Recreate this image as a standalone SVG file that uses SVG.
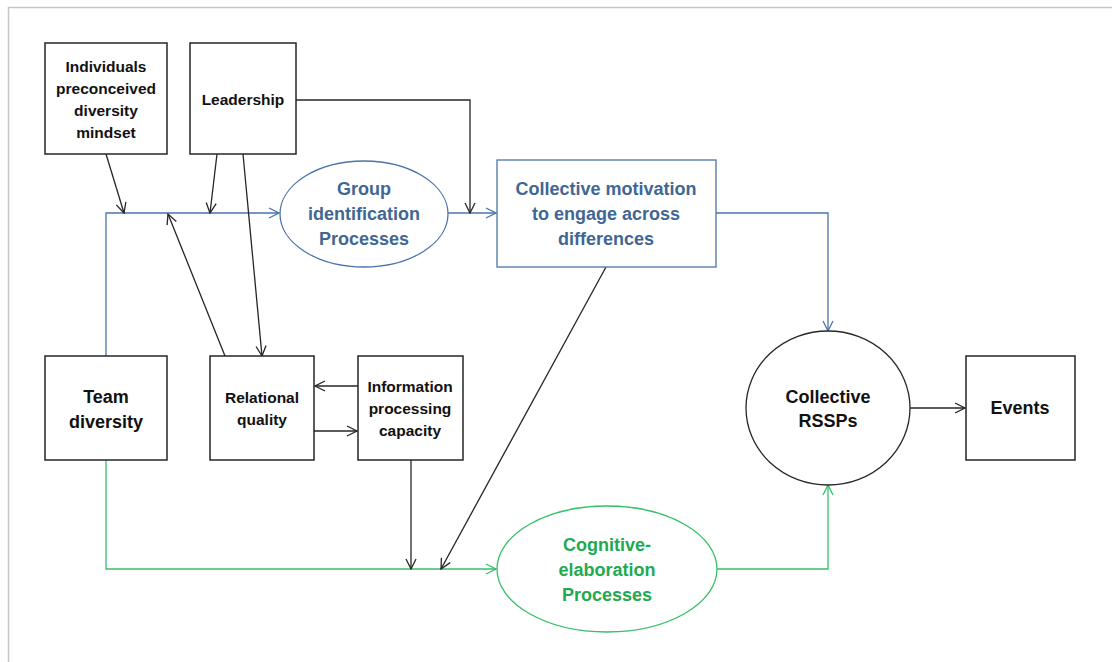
<svg xmlns="http://www.w3.org/2000/svg" width="1112" height="662" viewBox="0 0 1112 662">
<defs>
<style>
.box{fill:#fff;stroke:#262626;stroke-width:1.5}
.t{font-family:"Liberation Sans",Arial,sans-serif;font-weight:bold;font-size:15.5px;fill:#111;text-anchor:middle}
.tl{font-size:18px}
.tb{font-family:"Liberation Sans",Arial,sans-serif;font-weight:bold;font-size:18px;fill:#3f6694;text-anchor:middle}
.tg{font-family:"Liberation Sans",Arial,sans-serif;font-weight:bold;font-size:18px;fill:#1faa50;text-anchor:middle}
.k{fill:none;stroke:#262626;stroke-width:1.3;marker-end:url(#ak)}
.b{fill:none;stroke:#4a74aa;stroke-width:1.3}
.g{fill:none;stroke:#34c067;stroke-width:1.3}
</style>
<marker id="ak" viewBox="0 0 12 12" refX="11" refY="6" markerWidth="12" markerHeight="12" markerUnits="userSpaceOnUse" orient="auto"><path d="M1,1 L11,6 L1,11" fill="none" stroke="#262626" stroke-width="1.3"/></marker>
<marker id="ab" viewBox="0 0 12 12" refX="11" refY="6" markerWidth="12" markerHeight="12" markerUnits="userSpaceOnUse" orient="auto"><path d="M1,1 L11,6 L1,11" fill="none" stroke="#4a74aa" stroke-width="1.3"/></marker>
<marker id="ag" viewBox="0 0 12 12" refX="11" refY="6" markerWidth="12" markerHeight="12" markerUnits="userSpaceOnUse" orient="auto"><path d="M1,1 L11,6 L1,11" fill="none" stroke="#34c067" stroke-width="1.3"/></marker>
</defs>
<rect width="1112" height="662" fill="#fff"/>
<path d="M8.5,662 V7.5 H1112" fill="none" stroke="#c6c6c6" stroke-width="1.5"/>

<g id="connectors">
<path class="b" d="M106,356 V213 H279" marker-end="url(#ab)"/>
<path class="b" d="M448,213 H496" marker-end="url(#ab)"/>
<path class="b" d="M716,213 H828 V331" marker-end="url(#ab)"/>
<path class="g" d="M106,460 V569 H496" marker-end="url(#ag)"/>
<path class="g" d="M716,569 H828 V485" marker-end="url(#ag)"/>
<path class="k" d="M106,154 L124,213"/>
<path class="k" d="M217,154 L210,213"/>
<path class="k" d="M225,356 L168,214"/>
<path class="k" d="M243,154 L262,356"/>
<path class="k" d="M296,100 H470 V213"/>
<path class="k" d="M358,386 H315"/>
<path class="k" d="M314,431 H357"/>
<path class="k" d="M411,460 V569"/>
<path class="k" d="M606,267 L441,569"/>
<path class="k" d="M910,408 H965"/>
</g>

<g id="individuals">
<rect class="box" x="45" y="43" width="122" height="111"/>
<text class="t" x="106" y="72">Individuals</text>
<text class="t" x="106" y="94">preconceived</text>
<text class="t" x="106" y="116">diversity</text>
<text class="t" x="106" y="138">mindset</text>
</g>
<g id="leadership">
<rect class="box" x="190" y="43" width="106" height="111"/>
<text class="t" x="243" y="105">Leadership</text>
</g>
<g id="group-identification">
<ellipse cx="364" cy="214" rx="84" ry="53" fill="#fff" stroke="#4a74aa" stroke-width="1.3"/>
<text class="tb" x="364" y="195">Group</text>
<text class="tb" x="364" y="220">identification</text>
<text class="tb" x="364" y="245">Processes</text>
</g>
<g id="collective-motivation">
<rect x="497" y="160" width="219" height="107" fill="#fff" stroke="#4a74aa" stroke-width="1.3"/>
<text class="tb" x="606" y="195">Collective motivation</text>
<text class="tb" x="606" y="220">to engage across</text>
<text class="tb" x="606" y="245">differences</text>
</g>
<g id="team-diversity">
<rect class="box" x="45" y="356" width="122" height="104"/>
<text class="t tl" x="106" y="403">Team</text>
<text class="t tl" x="106" y="428">diversity</text>
</g>
<g id="relational-quality">
<rect class="box" x="210" y="356" width="104" height="104"/>
<text class="t" x="262" y="403">Relational</text>
<text class="t" x="262" y="425">quality</text>
</g>
<g id="information-processing">
<rect class="box" x="358" y="356" width="105" height="104"/>
<text class="t" x="410" y="392">Information</text>
<text class="t" x="410" y="414">processing</text>
<text class="t" x="410" y="436">capacity</text>
</g>
<g id="cognitive-elaboration">
<ellipse cx="607" cy="569" rx="110" ry="63" fill="#fff" stroke="#34c067" stroke-width="1.3"/>
<text class="tg" x="607" y="551">Cognitive-</text>
<text class="tg" x="607" y="576">elaboration</text>
<text class="tg" x="607" y="601">Processes</text>
</g>
<g id="collective-rssps">
<ellipse cx="828" cy="408" rx="82" ry="77" fill="#fff" stroke="#262626" stroke-width="1.3"/>
<text class="t tl" x="828" y="403">Collective</text>
<text class="t tl" x="828" y="427">RSSPs</text>
</g>
<g id="events">
<rect class="box" x="966" y="356" width="109" height="104"/>
<text class="t tl" x="1020" y="414">Events</text>
</g>
</svg>
